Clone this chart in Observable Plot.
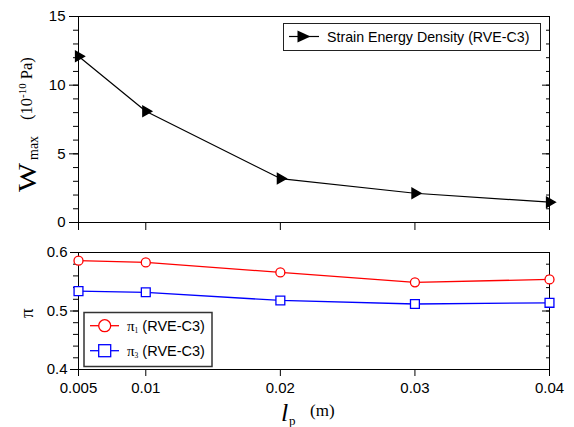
<!DOCTYPE html>
<html>
<head>
<meta charset="utf-8">
<script src="https://cdn.jsdelivr.net/npm/d3@7"></script>
<script src="https://cdn.jsdelivr.net/npm/@observablehq/plot@0.6"></script>
<style>
  html, body { margin: 0; padding: 0; background: #fff; }
  #wrap { position: relative; width: 574px; height: 427px; overflow: hidden; background: #fff; font-family: "Liberation Sans", Arial, sans-serif; }
  #wrap > svg { position: absolute; left: 0; }
</style>
</head>
<body>
<div id="wrap"></div>
<script>
// ---- data ----
const lp = [0.005, 0.01, 0.02, 0.03, 0.04];
const xTickLabels = ["0.005", "0.01", "0.02", "0.03", "0.04"];
const wmax = [12.1, 8.1, 3.2, 2.13, 1.48];
const pi1 = [0.586, 0.583, 0.566, 0.549, 0.554];
const pi3 = [0.534, 0.532, 0.518, 0.512, 0.514];
const wTicks = [0, 5, 10, 15];
const wMinor = d3.range(0, 16, 1);
const piTicks = [0.4, 0.5, 0.6];
const piMinor = d3.range(0, 11).map(i => 0.4 + i * 0.02);
const legendTop = "Strain Energy Density (RVE-C3)";
const legendPi = ["1", "3"];

const topData = lp.map((x, i) => ({x, y: wmax[i]}));
const d1 = lp.map((x, i) => ({x, y: pi1[i]}));
const d3s = lp.map((x, i) => ({x, y: pi3[i]}));

const wrap = document.getElementById("wrap");
const baseStyle = {fontFamily: "Liberation Sans, Arial, sans-serif", fontSize: "15px", color: "black", background: "transparent", overflow: "visible"};

const topPlot = Plot.plot({
  width: 574, height: 240,
  marginLeft: 78, marginRight: 25, marginTop: 16, marginBottom: 18,
  style: baseStyle,
  x: {type: "linear", domain: [0.005, 0.04], label: null},
  y: {domain: [0, 15], label: null},
  marks: [
    Plot.axisY({ticks: wTicks, tickSize: 9, tickPadding: 4, fontSize: 15, tickFormat: d3.format("d"), label: null}),
    Plot.axisY({ticks: wMinor, tickSize: 5, fill: "none", label: null}),
    Plot.axisY({anchor: "right", ticks: wTicks, tickSize: 8, insetRight: 8, fill: "none", label: null}),
    Plot.axisY({anchor: "right", ticks: wMinor, tickSize: 4, insetRight: 4, fill: "none", label: null}),
    Plot.axisX({ticks: lp, tickSize: 8, fill: "none", label: null}),
    Plot.frame({stroke: "black"}),
    Plot.line(topData, {x: "x", y: "y", stroke: "black", strokeWidth: 1.2}),
    Plot.dot(topData, {x: "x", y: "y", symbol: "triangle", rotate: 90, fill: "black", stroke: "black", r: 3.7})
  ]
});
topPlot.style.top = "0px";
wrap.appendChild(topPlot);

const botPlot = Plot.plot({
  width: 574, height: 187,
  marginLeft: 78, marginRight: 25, marginTop: 12, marginBottom: 58,
  style: baseStyle,
  x: {type: "linear", domain: [0.005, 0.04], label: null},
  y: {domain: [0.4, 0.6], label: null},
  marks: [
    Plot.axisY({ticks: piTicks, tickSize: 8, tickPadding: 3, fontSize: 15, tickFormat: d3.format(".1f"), label: null}),
    Plot.axisY({ticks: piMinor, tickSize: 5, fill: "none", label: null}),
    Plot.axisY({anchor: "right", ticks: piTicks, tickSize: 8, insetRight: 8, fill: "none", label: null}),
    Plot.axisY({anchor: "right", ticks: piMinor, tickSize: 4, insetRight: 4, fill: "none", label: null}),
    Plot.axisX({ticks: lp, tickSize: 7, tickPadding: 6, fontSize: 15, tickFormat: d => xTickLabels[lp.indexOf(d)], label: null}),
    Plot.frame({stroke: "black"}),
    Plot.line(d1, {x: "x", y: "y", stroke: "#ff0000", strokeWidth: 1.3}),
    Plot.dot(d1, {x: "x", y: "y", symbol: "circle", stroke: "#ff0000", fill: "white", strokeWidth: 1.3, r: 4.5}),
    Plot.line(d3s, {x: "x", y: "y", stroke: "#0000ff", strokeWidth: 1.3}),
    Plot.dot(d3s, {x: "x", y: "y", symbol: "square", stroke: "#0000ff", fill: "white", strokeWidth: 1.3, r: 5})
  ]
});
botPlot.style.top = "240px";
wrap.appendChild(botPlot);

// ---- overlay: axis titles and legends ----
const ov = d3.select(wrap).append("svg")
  .attr("width", 574).attr("height", 427)
  .style("top", "0px").style("pointer-events", "none");

const serif = "Liberation Serif, Times New Roman, serif";
const sans = "Liberation Sans, Arial, sans-serif";

// Y title top: W_max (10^-10 Pa), rotated
ov.append("text").attr("transform", "translate(36,192) rotate(-90)")
  .attr("font-family", serif).attr("font-size", 25)
  .attr("textLength", 29).attr("lengthAdjust", "spacingAndGlyphs").text("W");
ov.append("text").attr("transform", "translate(38,160) rotate(-90)")
  .attr("font-family", serif).attr("font-size", 14).text("max");
const unit = ov.append("text").attr("transform", "translate(32,120) rotate(-90)")
  .attr("font-family", serif).attr("font-size", 16.5);
unit.append("tspan").text("(10");
unit.append("tspan").attr("font-size", 11).attr("dy", -6).text("-10");
unit.append("tspan").attr("dy", 6).text(" Pa)");

// Y title bottom: π
ov.append("text").attr("transform", "translate(33,318) rotate(-90)")
  .attr("font-family", serif).attr("font-size", 19).text("π");

// X title: l_p (m)
ov.append("text").attr("x", 281).attr("y", 421)
  .attr("font-family", serif).attr("font-style", "italic").attr("font-size", 26).text("l");
ov.append("text").attr("x", 289).attr("y", 425)
  .attr("font-family", serif).attr("font-size", 13).text("p");
ov.append("text").attr("x", 310).attr("y", 416)
  .attr("font-family", serif).attr("font-size", 17).text("(m)");

// Top legend
ov.append("rect").attr("x", 283.5).attr("y", 23.5).attr("width", 257).attr("height", 27)
  .attr("fill", "white").attr("stroke", "#222").attr("stroke-width", 1);
ov.append("line").attr("x1", 289).attr("x2", 319).attr("y1", 36.5).attr("y2", 36.5)
  .attr("stroke", "black").attr("stroke-width", 1.2);
ov.append("path").attr("d", "M297.5,30.5L310.5,36.5L297.5,42.5Z").attr("fill", "black");
ov.append("text").attr("x", 327).attr("y", 41.5).attr("font-family", sans).attr("font-size", 14.2)
  .text(legendTop);

// Bottom legend
ov.append("rect").attr("x", 84).attr("y", 312.5).attr("width", 128).attr("height", 54)
  .attr("fill", "white").attr("stroke", "#333").attr("stroke-width", 1.5);
const ly = [325.7, 350.7];
const lc = ["#ff0000", "#0000ff"];
ly.forEach((y, i) => {
  ov.append("line").attr("x1", 90).attr("x2", 119).attr("y1", y).attr("y2", y)
    .attr("stroke", lc[i]).attr("stroke-width", 1.3);
  if (i === 0) {
    ov.append("circle").attr("cx", 104.7).attr("cy", y).attr("r", 6)
      .attr("fill", "white").attr("stroke", lc[i]).attr("stroke-width", 1.3);
  } else {
    ov.append("rect").attr("x", 98.7).attr("y", y - 6).attr("width", 12).attr("height", 12)
      .attr("fill", "white").attr("stroke", lc[i]).attr("stroke-width", 1.3);
  }
  const t = ov.append("text").attr("x", 127).attr("y", y + 5).attr("font-family", sans).attr("font-size", 14.5);
  t.append("tspan").attr("font-family", serif).attr("font-size", 15).text("π");
  t.append("tspan").attr("font-family", serif).attr("font-size", 7.5).attr("dy", 2).text(legendPi[i]);
  t.append("tspan").attr("dy", -2).text(" (RVE-C3)");
});
</script>
</body>
</html>
